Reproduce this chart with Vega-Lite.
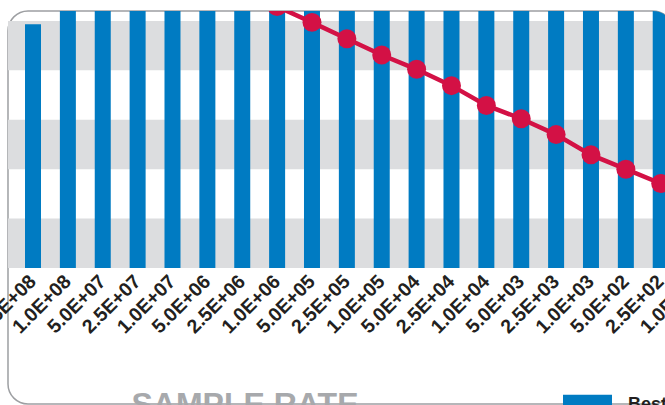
{
  "$schema": "https://vega.github.io/schema/vega-lite/v6.json",
  "width": 665,
  "height": 393,
  "autosize": {"type": "none"},
  "padding": {"left": 8, "top": 11, "right": -8, "bottom": 1},
  "config": {
    "view": {"stroke": "#9d9fa2", "strokeWidth": 1.5, "cornerRadius": 20, "fill": "white"},
    "font": "Liberation Sans"
  },
  "datasets": {
    "rates": [
      {"rate": "2.5E+08", "best": 49.3, "trend": 74.5},
      {"rate": "1.0E+08", "best": 60, "trend": 71.4},
      {"rate": "5.0E+07", "best": 61, "trend": 68.3},
      {"rate": "2.5E+07", "best": 62, "trend": 65.2},
      {"rate": "1.0E+07", "best": 63, "trend": 62.1},
      {"rate": "5.0E+06", "best": 64, "trend": 59.0},
      {"rate": "2.5E+06", "best": 65, "trend": 55.9},
      {"rate": "1.0E+06", "best": 66, "trend": 52.9},
      {"rate": "5.0E+05", "best": 67, "trend": 49.7},
      {"rate": "2.5E+05", "best": 68, "trend": 46.4},
      {"rate": "1.0E+05", "best": 69, "trend": 43.1},
      {"rate": "5.0E+04", "best": 70, "trend": 40.2},
      {"rate": "2.5E+04", "best": 71, "trend": 36.9},
      {"rate": "1.0E+04", "best": 72, "trend": 32.9},
      {"rate": "5.0E+03", "best": 73, "trend": 30.2},
      {"rate": "2.5E+03", "best": 74, "trend": 27.0},
      {"rate": "1.0E+03", "best": 75, "trend": 22.9},
      {"rate": "5.0E+02", "best": 76, "trend": 20.0},
      {"rate": "2.5E+02", "best": 77, "trend": 17.1},
      {"rate": "1.0E+02", "best": 78, "trend": 13.8}
    ],
    "bands": [
      {"lo": 0, "hi": 10},
      {"lo": 20, "hi": 30},
      {"lo": 40, "hi": 50}
    ]
  },
  "layer": [
    {
      "data": {"name": "bands"},
      "mark": {"type": "rect", "color": "#dcdddf"},
      "encoding": {
        "y": {"field": "lo", "type": "quantitative", "axis": null,
              "scale": {"domain": [-27.5, 52], "nice": false, "zero": false}},
        "y2": {"field": "hi"}
      }
    },
    {
      "data": {"name": "rates"},
      "encoding": {
        "x": {
          "field": "rate", "type": "nominal", "sort": null,
          "scale": {"range": [17, 695.6], "paddingInner": 0.5412, "paddingOuter": 0},
          "axis": {
            "orient": "bottom", "offset": -136,
            "title": "SAMPLE RATE", "titleFont": "Liberation Sans", "titleFontSize": 32,
            "titleFontWeight": "bold", "titleColor": "#a7a9ac",
            "titleX": 123, "titleY": 146, "titleAlign": "left", "titleBaseline": "alphabetic", "titleAnchor": "start",
            "labelAngle": -45, "labelAlign": "right", "labelBaseline": "middle",
            "labelFontSize": 19.5, "labelFontWeight": "bold", "labelColor": "#231f20",
            "labelPadding": 10, "ticks": false, "tickSize": 0, "domain": false,
            "labelOverlap": false, "labelFlush": false, "labelBound": false, "grid": false
          }
        }
      },
      "layer": [
        {
          "mark": {"type": "bar", "clip": true},
          "encoding": {
            "y": {"field": "best", "type": "quantitative", "axis": null},
            "color": {
              "datum": "Best",
              "scale": {"domain": ["Best"], "range": ["#007bc2"]},
              "legend": {
                "orient": "none", "legendX": 555, "legendY": 369, "title": null,
                "symbolType": "M-1,-0.4H1V0.4H-1Z", "symbolSize": 2401,
                "symbolStrokeWidth": 0, "symbolOpacity": 1,
                "labelFontSize": 18, "labelFont": "Liberation Sans", "labelFontWeight": "bold",
                "labelColor": "#231f20", "labelOffset": 16, "padding": 0
              }
            }
          }
        },
        {
          "mark": {"type": "line", "clip": true, "color": "#d31145", "strokeWidth": 4.5},
          "encoding": {"y": {"field": "trend", "type": "quantitative", "axis": null}}
        },
        {
          "mark": {"type": "point", "clip": true, "filled": true, "shape": "circle", "size": 360, "color": "#d31145", "opacity": 1},
          "encoding": {"y": {"field": "trend", "type": "quantitative", "axis": null}}
        }
      ]
    },
    {
      "mark": {"type": "rule", "color": "#333333", "strokeWidth": 1.6},
      "encoding": {"y": {"datum": 0, "type": "quantitative", "axis": null}}
    }
  ]
}
